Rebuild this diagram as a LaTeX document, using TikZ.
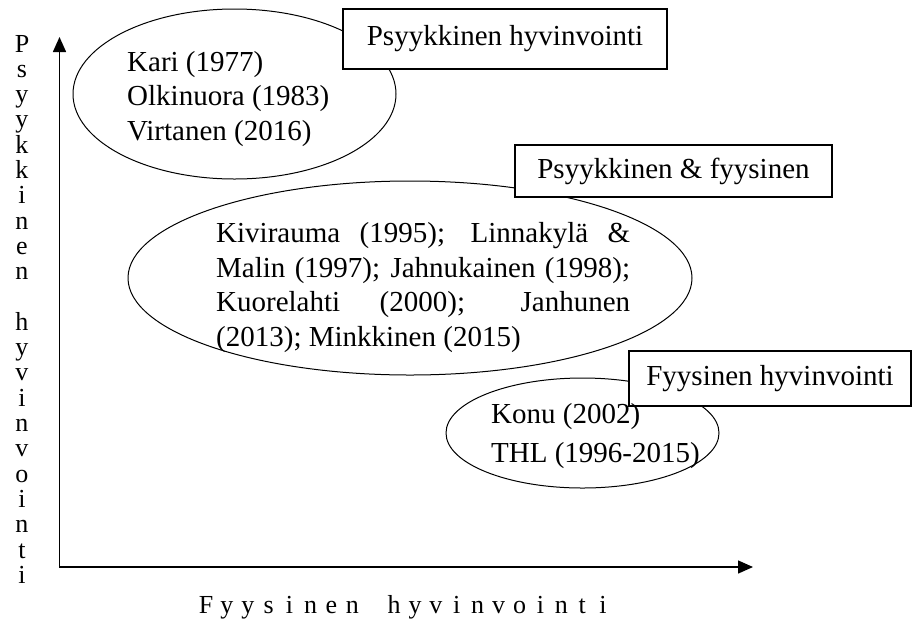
\documentclass[tikz,border=0pt]{standalone}
\usepackage{fontspec}
\setmainfont{Liberation Serif}
\usetikzlibrary{shapes.geometric, arrows.meta}

\begin{document}
\begin{tikzpicture}[x=1pt, y=-1pt, font=\fontsize{29}{34.5}\selectfont,
    >={Triangle[length=15pt, width=13pt]}]
      \tikzstyle{ring}=[draw, ellipse, line width=1pt, inner sep=0pt]
      \tikzstyle{tag}=[draw, fill=white, line width=1.4pt, inner sep=0pt]
      \tikzstyle{refs}=[inner sep=0pt, align=left]
      \tikzstyle{letter}=[anchor=base, inner sep=0pt, font=\fontsize{26}{26}\selectfont]
      \tikzstyle{axis}=[line width=1.5pt]

      \useasboundingbox (0,0) rectangle (912,630);

      % Ellipses first, so that the boxes cover them.
      \node[ring, minimum width=323pt, minimum height=170pt]
        (e_psy) at (234.5,94)     % top left.
        {};
      \node[ring, minimum width=564pt, minimum height=194pt]
        (e_both) at (410,278)     % middle.
        {};
      \node[ring, minimum width=273pt, minimum height=110pt]
        (e_fys) at (582.5,433)    % bottom right.
        {};

      % Label boxes on top of the ellipses.
      \node[tag, minimum width=324pt, minimum height=60pt]
        (b_psy) at (505,39)
        {Psyykkinen hyvinvointi};
      \node[tag, minimum width=317pt, minimum height=52pt]
        (b_both) at (673.5,171)
        {Psyykkinen \& fyysinen};
      \node[tag, minimum width=282pt, minimum height=55pt]
        (b_fys) at (770,378.5)
        {Fyysinen hyvinvointi};

      % References inside the ellipses.
      \node[refs, anchor=west]
        (t_psy) at (127,99)
        {Kari (1977)\\ Olkinuora (1983)\\ Virtanen (2016)};
      \node[refs, anchor=west, text width=414pt, align=justify]
        (t_both) at (216,287.5)
        {Kivirauma (1995); Linnakylä \&\linebreak
         Malin (1997); Jahnukainen (1998);\linebreak
         Kuorelahti (2000); Janhunen\linebreak
         (2013); Minkkinen (2015)};
      \node[refs, anchor=west, font=\fontsize{29}{39}\selectfont]
        (t_fys) at (491,436)
        {Konu (2002)\\ THL (1996-2015)};

      % Axes.
      \coordinate (o) at (59.5,567);
      \coordinate (y_top) at (59.5,37);
      \coordinate (x_end) at (753,567);
      \draw[axis, <->] (y_top) -- (o) -- (x_end);

      % Axis titles, one letter per slot.
      \foreach \ch [count=\i from 0] in {P,s,y,y,k,k,i,n,e,n}
        \node[letter] (v\i) at (22,52+25.3*\i) {\ch};
      \foreach \ch [count=\i from 11] in {h,y,v,i,n,v,o,i,n,t,i}
        \node[letter] (v\i) at (22,52+25.3*\i) {\ch};
      \foreach \ch [count=\i from 0] in {F,y,y,s,i,n,e,n}
        \node[letter] (h\i) at (206+20.9*\i,613) {\ch};
      \foreach \ch [count=\i from 9] in {h,y,v,i,n,v,o,i,n,t,i}
        \node[letter] (h\i) at (206+20.9*\i,613) {\ch};
\end{tikzpicture}
\end{document}
